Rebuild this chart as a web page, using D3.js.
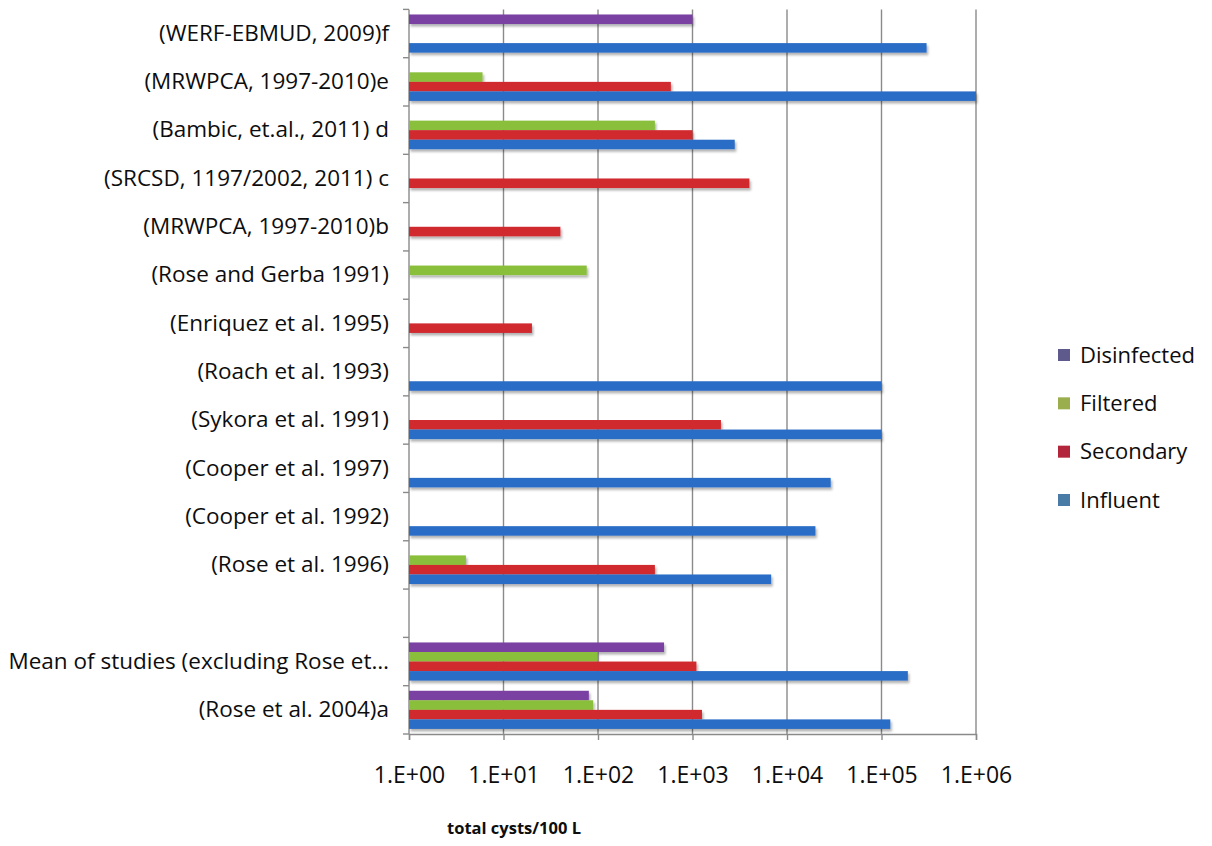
<!DOCTYPE html>
<html>
<head>
<meta charset="utf-8">
<script src="https://cdn.jsdelivr.net/npm/d3@7"></script>
<style>
  html, body { margin: 0; padding: 0; background: #ffffff; }
  svg { display: block; font-family: "Open Sans", Lato, "DejaVu Sans", sans-serif; }
</style>
</head>
<body>
<svg id="chart" width="1212" height="846"></svg>
<script>
// ---- data (top to bottom as drawn) ----
const categories = [
  "(WERF-EBMUD, 2009)f",
  "(MRWPCA, 1997-2010)e",
  "(Bambic, et.al., 2011) d",
  "(SRCSD, 1197/2002, 2011) c",
  "(MRWPCA, 1997-2010)b",
  "(Rose and Gerba 1991)",
  "(Enriquez et al. 1995)",
  "(Roach et al. 1993)",
  "(Sykora et al. 1991)",
  "(Cooper et al. 1997)",
  "(Cooper et al. 1992)",
  "(Rose et al. 1996)",
  " ",
  "Mean of studies (excluding Rose et…",
  "(Rose et al. 2004)a"
];
const seriesNames = ["Disinfected", "Filtered", "Secondary", "Influent"];
const disinfected = [1000, null, null, null, null, null, null, null, null, null, null, null, null, 500, 80];
const filtered    = [null, 6, 400, null, null, 76, null, null, null, null, null, 4, null, 98, 89];
const secondary   = [null, 590, 1000, 4000, 40, null, 20, null, 2000, null, null, 400, null, 1100, 1260];
const influent    = [300000, 1000000, 2800, null, null, null, null, 100000, 100000, 29000, 20000, 6800, null, 190000, 124000];
const xTicks = [1, 10, 100, 1000, 10000, 100000, 1000000];
const xTickLabels = ["1.E+00", "1.E+01", "1.E+02", "1.E+03", "1.E+04", "1.E+05", "1.E+06"];
const xTitle = "total cysts/100 L";

// ---- styles ----
const barColors = {Disinfected: "#7a3fa2", Filtered: "#8abf3a", Secondary: "#d12a2f", Influent: "#2c6dc6"};
const swatchColors = {Disinfected: "#5f5a8c", Filtered: "#9aae4d", Secondary: "#b3253b", Influent: "#4a7aa6"};
const seriesValues = {Disinfected: disinfected, Filtered: filtered, Secondary: secondary, Influent: influent};
const FONT = "'Open Sans', Lato, sans-serif";
const TEXT = "#0d0d0d";

const svg = d3.select("#chart");
const mLeft = 409, mRight = 976, mTop = 9.4, mBottom = 734;

const defs = svg.append("defs");
const f = defs.append("filter").attr("id", "shadow").attr("x", "-5%").attr("y", "-50%").attr("width", "110%").attr("height", "220%");
f.append("feDropShadow").attr("dx", 1.5).attr("dy", 2.5).attr("stdDeviation", 1.2)
  .attr("flood-color", "#000").attr("flood-opacity", 0.3);

const x = d3.scaleLog().domain([1, 1e6]).range([mLeft, mRight]);
const y = d3.scaleBand().domain(categories).range([mTop, mBottom]).paddingInner(0.21).paddingOuter(0.105);
const ySub = d3.scaleBand().domain(seriesNames).range([0, y.bandwidth()]).padding(0);

// vertical gridlines
svg.append("g").selectAll("line").data(xTicks).join("line")
  .attr("x1", d => x(d)).attr("x2", d => x(d))
  .attr("y1", mTop).attr("y2", mBottom)
  .attr("stroke", "#8a8a8a").attr("stroke-width", 1.4);

// bars
const barData = [];
categories.forEach((c, i) => {
  seriesNames.forEach(s => {
    const v = seriesValues[s][i];
    if (v != null) barData.push({cat: c, series: s, value: v});
  });
});
svg.append("g").attr("filter", "url(#shadow)").selectAll("rect").data(barData).join("rect")
  .attr("x", x(1))
  .attr("y", d => y(d.cat) + ySub(d.series))
  .attr("width", d => x(d.value) - x(1))
  .attr("height", ySub.bandwidth())
  .attr("fill", d => barColors[d.series]);

// x axis
const xAxis = d3.axisBottom(x).tickValues(xTicks)
  .tickFormat((d, i) => xTickLabels[i]).tickSize(6).tickPadding(27);
const gx = svg.append("g").attr("transform", `translate(0,${mBottom})`).call(xAxis);
gx.select(".domain").attr("stroke", "#8a8a8a").attr("stroke-width", 1.4);
gx.selectAll(".tick line").attr("stroke", "#8a8a8a").attr("stroke-width", 1.4);
gx.selectAll(".tick text").attr("font-size", 23).attr("fill", TEXT)
  .attr("font-family", FONT);

// y axis
const yAxis = d3.axisLeft(y).tickSize(0).tickPadding(20);
const gy = svg.append("g").attr("transform", `translate(${mLeft},0)`).call(yAxis);
gy.select(".domain").remove();
gy.selectAll(".tick text").attr("font-size", 22.5).attr("fill", TEXT)
  .attr("font-family", FONT);
// y band boundary tick marks
const bounds = categories.map(c => y(c) - y.step() * y.paddingInner() / 2);
bounds.push(mBottom);
svg.append("g").selectAll("line").data(bounds).join("line")
  .attr("x1", mLeft - 6).attr("x2", mLeft).attr("y1", d => d).attr("y2", d => d)
  .attr("stroke", "#8a8a8a").attr("stroke-width", 1.4);

// x title
svg.append("text").attr("x", 514).attr("y", 834).attr("text-anchor", "middle")
  .attr("font-family", FONT)
  .attr("font-size", 16.5).attr("font-weight", "bold").attr("fill", TEXT)
  .text(xTitle);

// legend
const lg = svg.append("g").attr("transform", "translate(1058,0)");
const ly = d3.scalePoint().domain(seriesNames).range([355, 500]);
const items = lg.selectAll("g").data(seriesNames).join("g")
  .attr("transform", d => `translate(0,${ly(d)})`);
items.append("rect").attr("x", 0).attr("y", -6).attr("width", 12).attr("height", 12)
  .attr("fill", d => swatchColors[d]);
items.append("text").attr("x", 22).attr("y", 0).attr("dy", "0.35em")
  .attr("font-family", FONT)
  .attr("font-size", 22).attr("fill", TEXT).text(d => d);
</script>
</body>
</html>
